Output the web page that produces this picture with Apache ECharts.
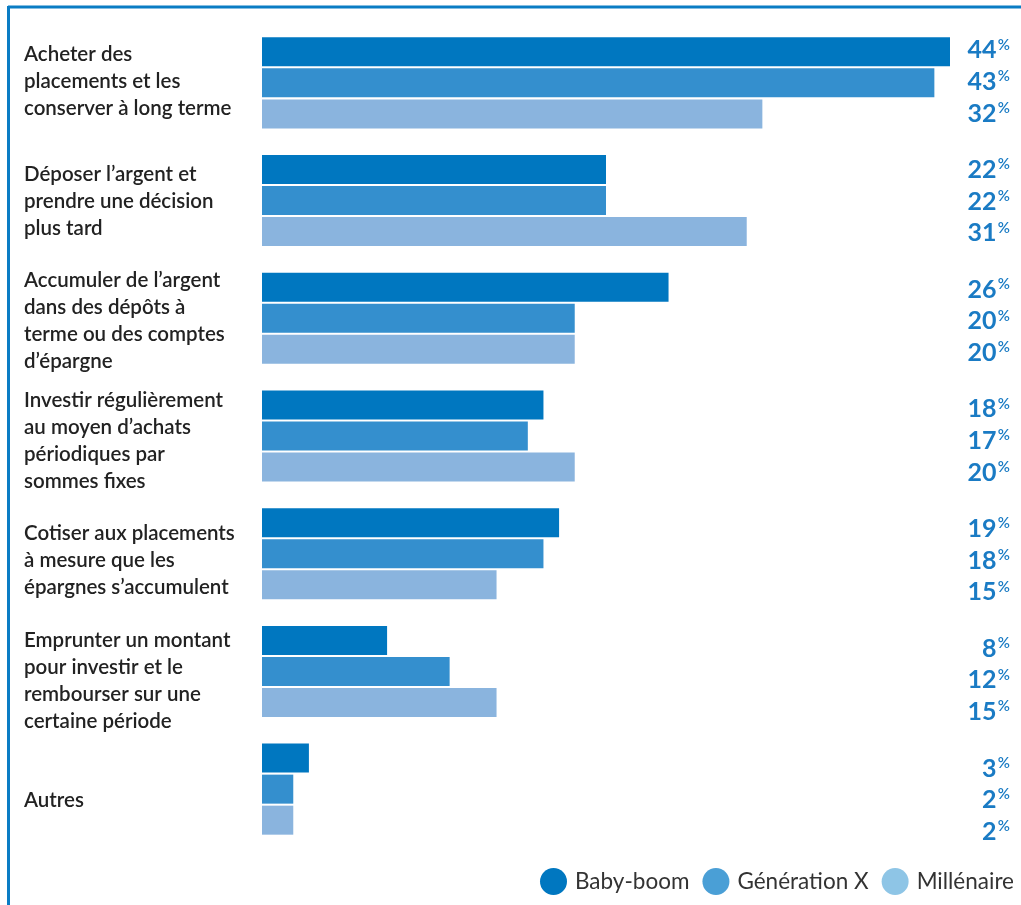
<!DOCTYPE html>
<html>
<head>
<meta charset="utf-8">
<script src="https://cdn.jsdelivr.net/npm/echarts@6/dist/echarts.min.js"></script>
<style>
  html, body { margin: 0; padding: 0; background: #fff; }
  #chart { width: 1021px; height: 905px; }
</style>
</head>
<body>
<div id="chart"></div>
<script>
// Stratégies d'investissement par génération (%)
const categories = [
  "Acheter des\nplacements et les\nconserver à long terme",
  "Déposer l’argent et\nprendre une décision\nplus tard",
  "Accumuler de l’argent\ndans des dépôts à\nterme ou des comptes\nd’épargne",
  "Investir régulièrement\nau moyen d’achats\npériodiques par\nsommes fixes",
  "Cotiser aux placements\nà mesure que les\népargnes s’accumulent",
  "Emprunter un montant\npour investir et le\nrembourser sur une\ncertaine période",
  "Autres"
];
const seriesNames = ["Baby-boom", "Génération X", "Millénaire"];
const babyBoom   = [44, 22, 26, 18, 19, 8, 3];
const generationX = [43, 22, 20, 17, 18, 12, 2];
const millenaire = [32, 31, 20, 20, 15, 15, 2];
const seriesValues = [babyBoom, generationX, millenaire];

const barColors = ["#0077c0", "#348fce", "#8ab4de"];
const legendColors = ["#0077c0", "#4a9fd6", "#8ec5e6"];
const valueColor = "#1a7bc4";
const font = "Lato";
const xMax = 44;

const chart = echarts.init(document.getElementById('chart'));

const bars = seriesValues.map((vals, i) => ({
  name: seriesNames[i],
  type: 'bar',
  xAxisIndex: 0,
  yAxisIndex: 0,
  data: vals,
  barWidth: 29,
  barGap: '7%',
  itemStyle: { color: barColors[i] },
  silent: true
}));

// Transparent twin series on the text grid, carrying the value labels
const valueLabels = seriesValues.map((vals, i) => ({
  name: 'lbl' + i,
  type: 'bar',
  xAxisIndex: 1,
  yAxisIndex: 1,
  data: vals,
  barWidth: 29,
  barGap: '9%',
  itemStyle: { color: 'rgba(0,0,0,0)' },
  silent: true,
  label: {
    show: true,
    position: [748, '50%'],
    align: 'right',
    verticalAlign: 'middle',
    formatter: p => '{v|' + p.value + '}{s| }{p|%}',
    rich: {
      v: { fontFamily: font, fontWeight: 'bold', fontSize: 25, color: valueColor, lineHeight: 26 },
      s: { fontSize: 5, lineHeight: 26 },
      p: { fontFamily: font, fontWeight: 600, fontSize: 15, color: valueColor, verticalAlign: 'top', lineHeight: 14, padding: [0, 0, 10, 0] }
    }
  }
}));

chart.setOption({
  animation: false,
  backgroundColor: '#ffffff',
  grid: [
    { left: 262, right: 71, top: 24, bottom: 57 },
    { left: 262, right: 71, top: 22, bottom: 45 }
  ],
  xAxis: [
    { type: 'value', gridIndex: 0, min: 0, max: xMax, show: false },
    { type: 'value', gridIndex: 1, min: 0, max: xMax, show: false }
  ],
  yAxis: [
    { type: 'category', gridIndex: 0, data: categories, inverse: true, show: false },
    {
      type: 'category', gridIndex: 1, data: categories, inverse: true,
      axisLine: { show: false }, axisTick: { show: false }, splitLine: { show: false },
      axisLabel: {
        show: true, align: 'left', margin: 238,
        fontFamily: font, fontWeight: 600, fontSize: 20.5, lineHeight: 27, color: '#222222'
      }
    }
  ],
  legend: {
    data: seriesNames.map((n, i) => ({ name: n, itemStyle: { color: legendColors[i] } })),
    icon: 'circle',
    itemWidth: 27, itemHeight: 27, itemGap: 13,
    right: 2, top: 863,
    textStyle: { fontFamily: font, fontSize: 22.5, color: '#333333', padding: [0, 0, 0, 3] },
    selectedMode: false
  },
  graphic: [
    { type: 'line', shape: { x1: 8, y1: 7, x2: 1021, y2: 7 }, style: { stroke: '#0a7cc4', lineWidth: 3 }, silent: true },
    { type: 'line', shape: { x1: 8.5, y1: 6, x2: 8.5, y2: 905 }, style: { stroke: '#0a7cc4', lineWidth: 3 }, silent: true }
  ],
  series: bars.concat(valueLabels)
});
</script>
</body>
</html>
